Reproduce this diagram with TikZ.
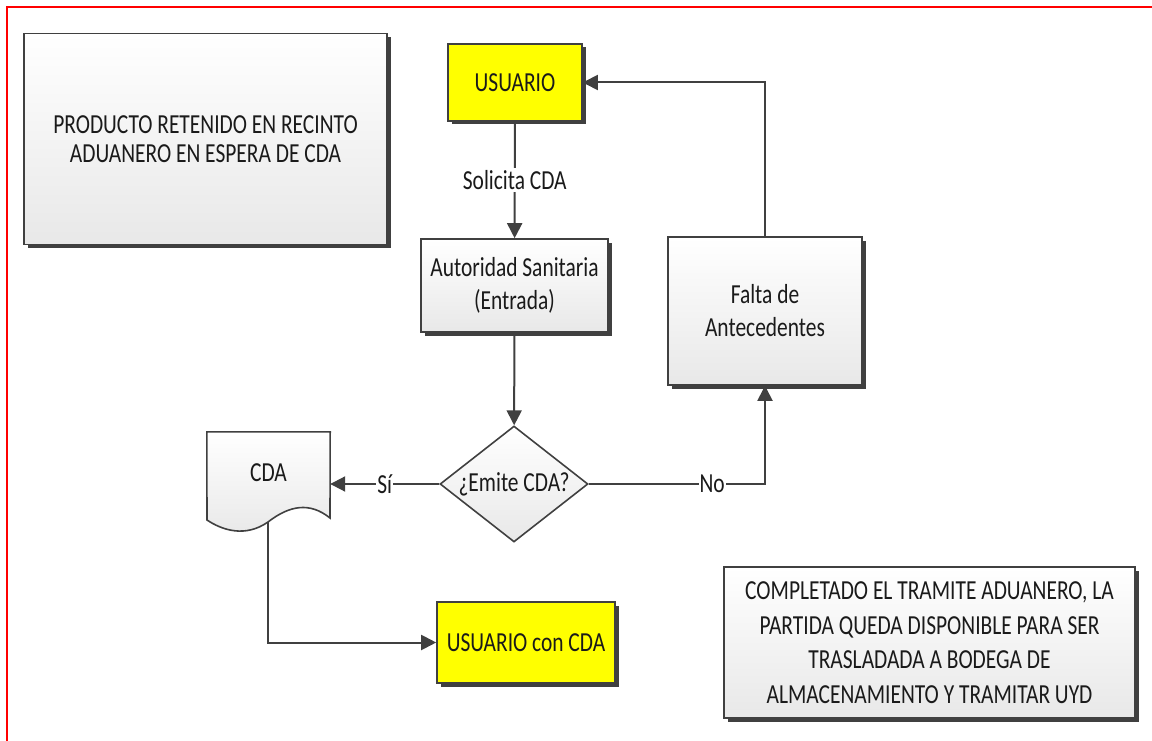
\documentclass[tikz,border=0pt]{standalone}
\usepackage{fontspec}
\setmainfont{Carlito}[FakeStretch=0.78]
\usetikzlibrary{shapes.geometric,arrows.meta,shadows,backgrounds}
\definecolor{linegray}{HTML}{404040}
\definecolor{txtgray}{HTML}{1A1A1A}
\begin{document}
\begin{tikzpicture}[
        x=1pt, y=-1pt,
        every node/.style={font=\fontsize{27.5}{33}\selectfont, text=txtgray, align=center},
        box/.style={rectangle, draw=linegray, line width=1.6pt, inner sep=0pt,
            top color=white, bottom color=gray!18,
            drop shadow={shadow xshift=3.5pt, shadow yshift=-3.5pt, fill=black!75, opacity=1}},
        user/.style={box, fill=yellow, top color=yellow, bottom color=yellow},
        decision/.style={diamond, draw=linegray, line width=1.6pt, inner sep=0pt, aspect=1.28,
            top color=white, bottom color=gray!18},
        edge/.style={-{Triangle[length=15pt, width=15pt]}, draw=linegray, line width=2pt},
        lbl/.style={fill=white, inner sep=2pt}
        ]
     \useasboundingbox (0,0) rectangle (1152,741);
     \draw[red, line width=2.2pt] (7,741) -- (7,7) -- (1152,7);

     \node[box, minimum width=363pt, minimum height=211pt, font=\fontsize{27.5}{29}\selectfont] (prod) at (205.5,139)
        {PRODUCTO RETENIDO EN RECINTO\\ADUANERO EN ESPERA DE CDA};
     \node[user, minimum width=134pt, minimum height=77pt] (usr) at (515,82.5) {USUARIO};
     \node[box, minimum width=187pt, minimum height=93pt] (aut) at (514.5,285.5) {Autoridad Sanitaria\\(Entrada)};
     \node[box, minimum width=194pt, minimum height=148pt] (falta) at (765,311) {Falta de\\Antecedentes};
     \node[decision, minimum width=148pt, minimum height=116pt] (dec) at (514,484) {¿Emite CDA?};
     \node[minimum width=123pt, minimum height=82pt, inner sep=0pt] (cda) at (268.5,473) {CDA};
     \node[user, minimum width=178pt, minimum height=81pt] (usrcda) at (526,642.5) {USUARIO con CDA};
     \node[box, minimum width=411pt, minimum height=151pt, font=\fontsize{27.5}{34.5}\selectfont] (comp) at (929.5,642.5)
        {COMPLETADO EL TRAMITE ADUANERO, LA\\PARTIDA QUEDA DISPONIBLE PARA SER\\TRASLADADA A BODEGA DE\\ALMACENAMIENTO Y TRAMITAR UYD};

     % document outline of CDA
     \begin{scope}[on background layer]
     \draw[linegray, line width=1.6pt, top color=white, bottom color=gray!18]
        (cda.north west) -- (cda.north east) -- (330,518)
        .. controls (310,502) and (290,505) .. (268,522)
        .. controls (245,538) and (222,530) .. (207,520) -- cycle;
     \end{scope}
     \coordinate (cdaout) at (268,522);

     \draw[edge] (usr) -- node[lbl] {Solicita CDA} (aut);
     \draw[edge] (aut) -- (dec);
     \draw[edge] (dec.west) -- node[lbl, inner sep=1pt] {Sí} (dec.west -| cda.east);
     \draw[edge] (dec.east) -| node[lbl, pos=0.35, inner sep=1pt] {No} (falta.south);
     \draw[edge] (falta.north) |- (usr.east);
     \draw[edge] (cdaout) |- (usrcda.west);

    \end{tikzpicture}
\end{document}
